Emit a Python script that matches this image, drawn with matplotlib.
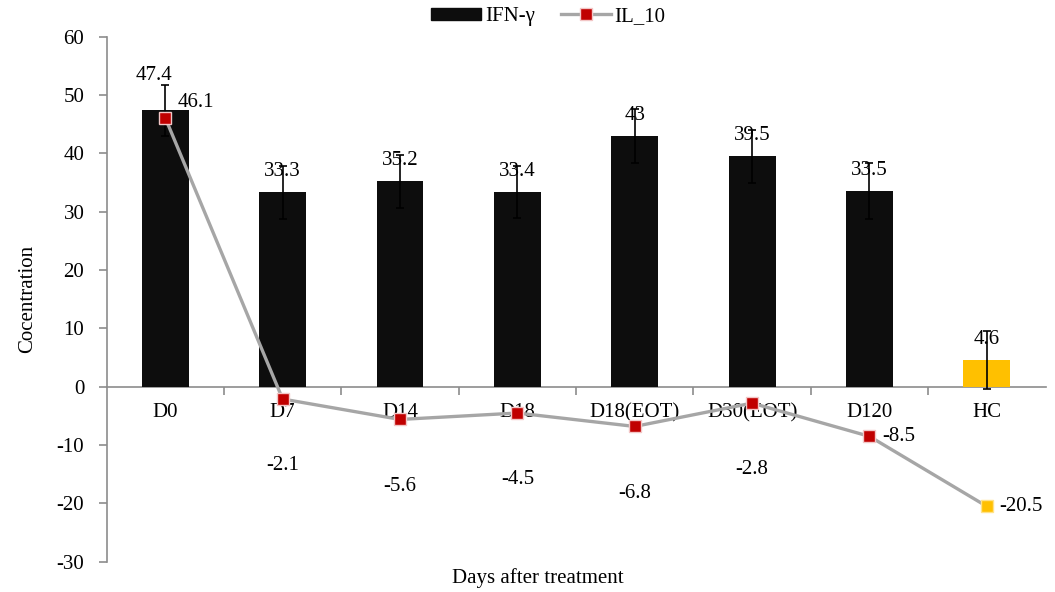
import matplotlib
matplotlib.use("Agg")
import matplotlib.pyplot as plt
from matplotlib.patches import Patch
from matplotlib.lines import Line2D
import numpy as np

categories = ["D0", "D7", "D14", "D18", "D18(EOT)", "D30(EOT)", "D120", "HC"]
ifn_gamma = [47.4, 33.3, 35.2, 33.4, 43, 39.5, 33.5, 4.6]
ifn_err = [4.4, 4.6, 4.6, 4.4, 4.6, 4.5, 4.8, 5.0]
il_10 = [46.1, -2.1, -5.6, -4.5, -6.8, -2.8, -8.5, -20.5]

plt.rcParams["font.family"] = ["Liberation Serif", "DejaVu Serif"]
plt.rcParams["font.size"] = 15
plt.rcParams["axes.unicode_minus"] = False

fig = plt.figure(figsize=(10.55, 5.92), dpi=100)
ax = fig.add_axes([0.101, 0.051, 0.890, 0.887])

x = np.arange(len(categories))
bar_colors = ["#0d0d0d"] * (len(categories) - 1) + ["#FFC000"]
ax.bar(x, ifn_gamma, width=0.4, color=bar_colors, zorder=2)
ax.errorbar(x, ifn_gamma, yerr=ifn_err, fmt="none", ecolor="black",
            elinewidth=1.2, capsize=3, capthick=1.2, zorder=3)

# IL_10 line with square markers; HC point in yellow
ax.plot(x, il_10, color="#A6A6A6", lw=2.4, zorder=4)
ax.plot(x[:-1], il_10[:-1], ls="none", marker="s", ms=9,
        mfc="#C00000", mec="#F2C6C6", mew=1, zorder=5)
ax.plot(x[-1:], il_10[-1:], ls="none", marker="s", ms=9,
        mfc="#FFC000", mec="#FFE28A", mew=1, zorder=5)

# value labels on bars
for i, v in enumerate(ifn_gamma):
    dx, dy = (-8, 25) if i == 0 else (0, 15)
    ax.annotate(f"{v:g}", (x[i], v), xytext=(dx, dy), textcoords="offset points",
                ha="center", va="center", fontsize=15, zorder=6)

# value labels on the IL_10 line
for i, v in enumerate(il_10):
    if i == 0:
        off, ha = (22, 11), "center"
    elif i >= 6:
        off, ha = (9, 0), "left"
    else:
        off, ha = (0, -48), "center"
    ax.annotate(f"{v:g}", (x[i], v), xytext=off, textcoords="offset points",
                ha=ha, va="center", fontsize=15, zorder=6)

ax.set_xlim(-0.5, len(categories) - 0.5)
ax.set_ylim(-30, 60)
ax.set_yticks(np.arange(-30, 61, 10))

for s in ["top", "right"]:
    ax.spines[s].set_visible(False)
ax.spines["bottom"].set_position(("data", 0))
for s in ["left", "bottom"]:
    ax.spines[s].set_color("#8c8c8c")
    ax.spines[s].set_linewidth(1.2)
ax.spines["bottom"].set_zorder(1)

ax.set_xticks(x)
ax.set_xticklabels(categories)
ax.set_xticks(np.arange(0.5, len(categories) - 0.5, 1), minor=True)
ax.tick_params(axis="x", which="major", length=0, pad=12, labelsize=15)
ax.tick_params(axis="x", which="minor", length=6, direction="out",
               color="#8c8c8c", width=1.2)
ax.tick_params(axis="y", length=6, direction="out", color="#8c8c8c",
               width=1.2, pad=10, labelsize=15)

ax.set_ylabel("Cocentration", fontsize=15, labelpad=14)
fig.text(0.51, 0.023, "Days after treatment", ha="center", va="center", fontsize=15)

handles = [Patch(facecolor="#0d0d0d", edgecolor="#0d0d0d"),
           Line2D([], [], color="#A6A6A6", lw=2.4, marker="s", ms=9,
                  mfc="#C00000", mec="#F2C6C6")]
fig.legend(handles, ["IFN-γ", "IL_10"], loc="center", bbox_to_anchor=(0.52, 0.972),
           ncol=2, frameon=False, fontsize=15, handlelength=2.4, handleheight=0.5,
           columnspacing=1.2, handletextpad=0.2)

fig.savefig("out.png", dpi=100)
